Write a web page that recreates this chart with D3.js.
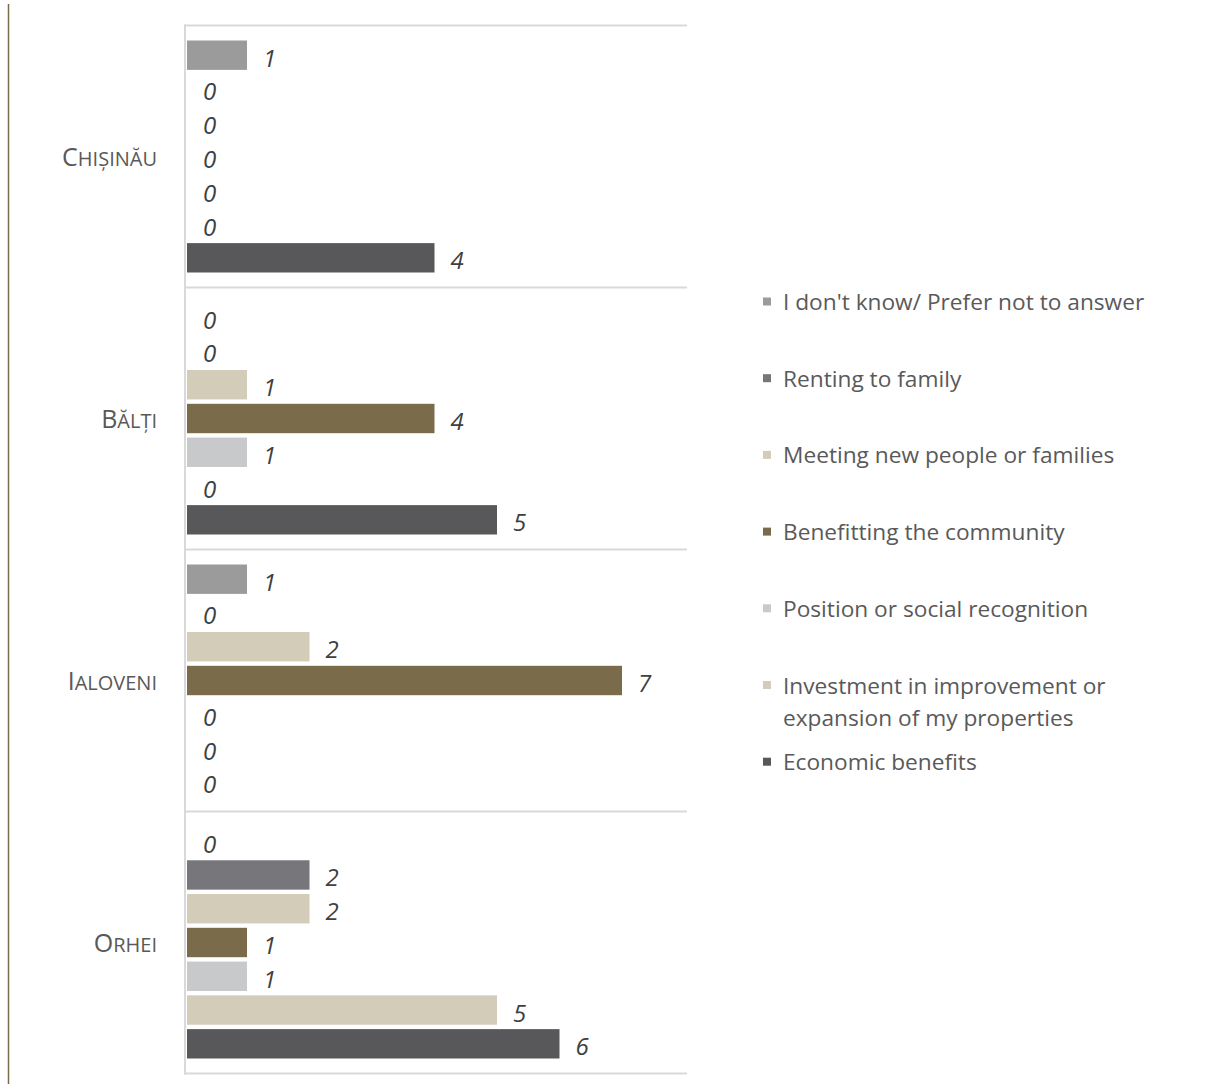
<!DOCTYPE html>
<html>
<head>
<meta charset="utf-8">
<script src="https://cdn.jsdelivr.net/npm/d3@7"></script>
<style>
  html, body { margin: 0; padding: 0; background: #ffffff; }
  svg { display: block; font-family: "Open Sans", "Noto Sans", sans-serif; }
</style>
</head>
<body>
<svg id="chart" width="1215" height="1084"></svg>
<script>
// ---- data ----
const categories = ["Chișinău", "Bălți", "Ialoveni", "Orhei"];
const seriesNames = [
  "I don't know/ Prefer not to answer",
  "Renting to family",
  "Meeting new people or families",
  "Benefitting the community",
  "Position or social recognition",
  "Investment in improvement or expansion of my properties",
  "Economic benefits"
];
const chisinauValues = [1, 0, 0, 0, 0, 0, 4];
const baltiValues    = [0, 0, 1, 4, 1, 0, 5];
const ialoveniValues = [1, 0, 2, 7, 0, 0, 0];
const orheiValues    = [0, 2, 2, 1, 1, 5, 6];
const seriesColors = ["#9b9b9c", "#76767b", "#d3ccb9", "#7a6b4b", "#c8c9cb", "#d3ccb9", "#58585a"];
const legendLines = [
  ["I don't know/ Prefer not to answer"],
  ["Renting to family"],
  ["Meeting new people or families"],
  ["Benefitting the community"],
  ["Position or social recognition"],
  ["Investment in improvement or", "expansion of my properties"],
  ["Economic benefits"]
];
const valuesByCategory = [chisinauValues, baltiValues, ialoveniValues, orheiValues];

// ---- layout ----
const svg = d3.select("#chart");
const plotRight = 687, plotTop = 25.5, plotBottom = 1073.5;

const x = d3.scaleLinear().domain([0, 8]).range([187, 687]);
const y0 = d3.scaleBand().domain(categories).range([plotTop, plotBottom]).padding(0);
const y1 = d3.scaleBand().domain(seriesNames).range([15, y0.bandwidth() - 15]).paddingInner(0.13).paddingOuter(0);
const color = d3.scaleOrdinal().domain(seriesNames).range(seriesColors);

// left decorative line
svg.append("line")
  .attr("x1", 8.5).attr("x2", 8.5).attr("y1", 4).attr("y2", 1084)
  .attr("stroke", "#7a6b4b").attr("stroke-width", 1.5);

// category separator lines
const bounds = categories.map(c => y0(c)).concat([plotBottom]);
svg.append("g").selectAll("line").data(bounds).join("line")
  .attr("x1", 184).attr("x2", plotRight)
  .attr("y1", d => d).attr("y2", d => d)
  .attr("stroke", "#d9d9d9").attr("stroke-width", 2);

// vertical axis line
svg.append("line")
  .attr("x1", 185).attr("x2", 185).attr("y1", plotTop - 1).attr("y2", plotBottom + 1)
  .attr("stroke", "#d9d9d9").attr("stroke-width", 2);

// bars + labels
const groups = svg.append("g").selectAll("g").data(categories).join("g")
  .attr("transform", c => `translate(0,${y0(c)})`);

groups.each(function(c, ci) {
  const g = d3.select(this);
  const rows = seriesNames.map((s, si) => ({ s, v: valuesByCategory[ci][si] }));
  g.selectAll("rect").data(rows.filter(d => d.v > 0)).join("rect")
    .attr("x", x(0))
    .attr("y", d => y1(d.s))
    .attr("width", d => x(d.v) - x(0) - 2.5)
    .attr("height", y1.bandwidth())
    .attr("fill", d => color(d.s));
  g.selectAll("text.val").data(rows).join("text")
    .attr("class", "val")
    .attr("x", d => (d.v > 0 ? x(d.v) - 2.5 : x(0)) + 16)
    .attr("y", d => y1(d.s) + y1.bandwidth() / 2 + 11.5)
    .attr("font-size", 24)
    .attr("font-style", "italic")
    .attr("fill", "#404040")
    .text(d => d.v);
});

// category labels (small caps)
const catLabels = svg.append("g").selectAll("text").data(categories).join("text")
  .attr("x", 157)
  .attr("y", c => y0(c) + y0.bandwidth() / 2 + 9)
  .attr("text-anchor", "end")
  .attr("fill", "#595959");
catLabels.append("tspan").attr("font-size", 25).text(c => c.charAt(0).toUpperCase());
catLabels.append("tspan").attr("font-size", 20).text(c => c.slice(1).toUpperCase());

// legend
const legend = svg.append("g").selectAll("g").data(seriesNames).join("g")
  .attr("transform", (d, i) => `translate(763,${302 + i * 76.7})`);
legend.append("rect")
  .attr("x", 0).attr("y", -4.5).attr("width", 8).attr("height", 8)
  .attr("fill", d => color(d));
legend.append("text")
  .attr("x", 20).attr("y", 8)
  .attr("font-size", 22.7)
  .attr("fill", "#595959")
  .selectAll("tspan").data((d, i) => legendLines[i]).join("tspan")
  .attr("x", 20)
  .attr("dy", (d, j) => j === 0 ? 0 : 32)
  .text(d => d);
</script>
</body>
</html>
